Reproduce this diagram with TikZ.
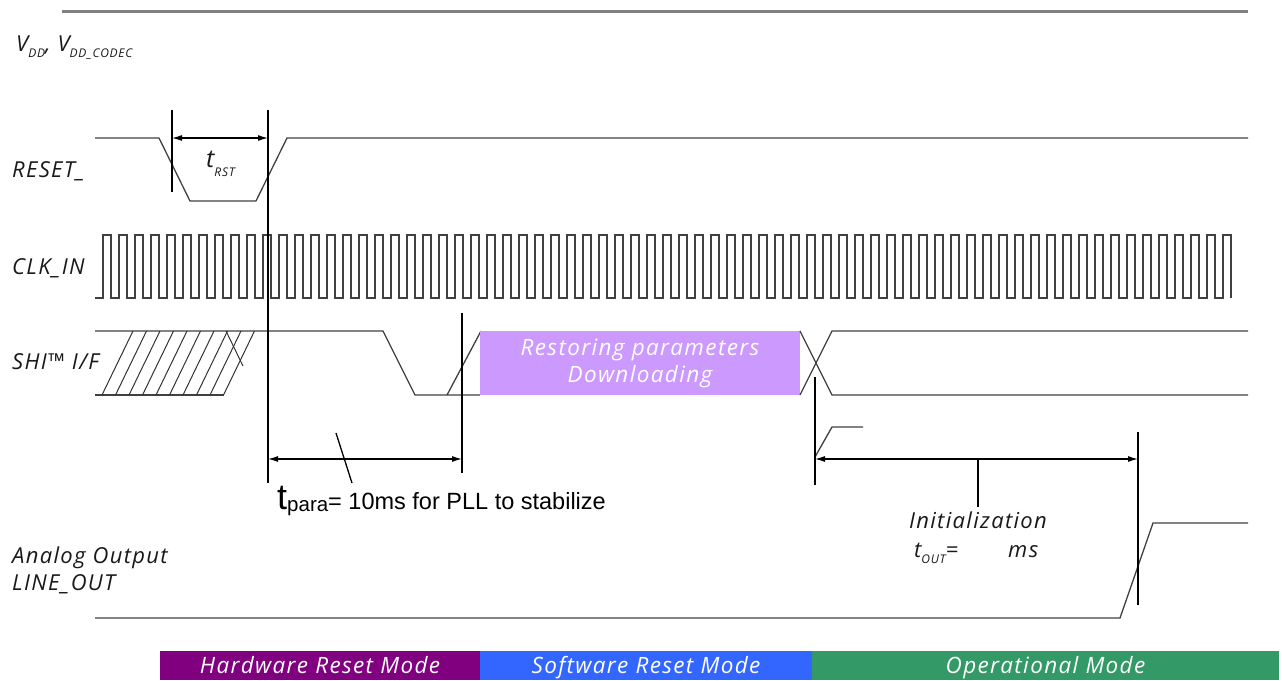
\documentclass[tikz,border=0pt]{standalone}
\usepackage{fontspec}
\setmainfont{Liberation Sans}
\newfontfamily\lblfont[LetterSpace=6]{Open Sans}
\usetikzlibrary{arrows.meta}

\definecolor{hwcol}{HTML}{800080}
\definecolor{swcol}{HTML}{3366FF}
\definecolor{opcol}{HTML}{339966}
\definecolor{boxcol}{HTML}{CC99FF}

\newcommand{\lowsub}[2][-6pt]{\raisebox{#1}{\fontsize{12}{12}\selectfont #2}}

\tikzset{
  sig/.style={line width=1.3pt, black!75},
  hatch/.style={line width=1pt, black!80},
  marker/.style={line width=1.3pt, black},
  dim/.style={line width=1.2pt, {Latex[length=10pt,width=6pt]}-{Latex[length=10pt,width=6pt]}},
  lbl/.style={font=\lblfont\itshape\fontsize{22}{24}\selectfont, inner sep=0pt, anchor=base west, text=black!90},
  modebar/.style={font=\lblfont\itshape\fontsize{22.5}{24}\selectfont, text=white, inner sep=0pt,
    minimum height=29pt, text height=16pt, text depth=0pt},
}

\begin{document}
\begin{tikzpicture}[x=1pt,y=-1pt]
\useasboundingbox (0,0) rectangle (1282,680);
\draw[line width=3pt, black!50] (62,11) -- (1248,11);

\node[lbl] (vdd) at (16,51) {V\lowsub{DD}, V\lowsub{DD\_CODEC}};
\node[lbl] (reset) at (12,177) {RESET\_};
\node[lbl] (clk) at (12,274) {CLK\_IN};
\node[lbl] (shi) at (12,369) {SHI™ I/F};
\node[lbl] (aout) at (12,563) {Analog Output};
\node[lbl] (lout) at (12,590) {LINE\_OUT};

% signals
\draw[sig] (95,138) -- (159,138) -- (190,201) -- (256,201) -- (287,138) -- (1248,138);
\draw[sig] (95,298) foreach \i in {0,...,70} { -- ({103+16*\i},298) -- ({103+16*\i},235) -- ({111+16*\i},235) -- ({111+16*\i},298) };

\draw[sig] (95,331) -- (383,331) -- (415,395) -- (480,395);
\draw[sig] (95,395) -- (224,395);
\foreach \k in {0,...,9}
  \draw[hatch] ({102+13.5*\k},395) -- ({133+13.5*\k},331);
\draw[hatch] (226,331) -- (243,366);
\draw[sig] (447,395) -- (481,331);
\node[fill=boxcol, minimum width=320pt, minimum height=64pt, inner sep=0pt, align=center,
  font=\lblfont\itshape\fontsize{22.5}{27}\selectfont, text=white] (restore) at (640,363)
  {Restoring parameters\\Downloading};
\draw[sig] (800,331) -- (832,395) -- (1248,395);
\draw[sig] (800,395) -- (832,331) -- (1248,331);
\draw[sig] (815,457) -- (832,427) -- (863,427);

\draw[sig] (95,618) -- (1120,618) -- (1153,523) -- (1248,523);

% markers
\coordinate (rstA) at (172,110);
\coordinate (rstB) at (268,110);
\coordinate (pllB) at (462,313);
\coordinate (initA) at (815,377);
\coordinate (initB) at (1138,432);
\draw[marker] (rstA) -- ++(0,82);
\draw[marker] (rstB) -- ++(0,373);
\draw[marker] (pllB) -- ++(0,160);
\draw[marker] (initA) -- ++(0,108);
\draw[marker] (initB) -- ++(0,173);

\coordinate (rstL) at (172,138);
\coordinate (rstR) at (268,138);
\coordinate (pllL) at (268,459);
\coordinate (pllR) at (462,459);
\coordinate (initL) at (815,459);
\coordinate (initR) at (1138,459);
\draw[dim] (rstL) -- (rstR);
\draw[dim] (pllL) -- (pllR);
\draw[dim] (initL) -- (initR);

\node[lbl] (trst) at (206,167) {{\fontsize{25}{25}\selectfont t}\lowsub[-9pt]{RST}};
\node[anchor=base west, inner sep=0pt, font=\fontsize{23.5}{24}\selectfont] (tpara) at (277,509)
  {{\fontsize{36}{36}\selectfont t}\raisebox{-2pt}{\fontsize{20.5}{20.5}\selectfont para}= 10ms for PLL to stabilize};
\draw[marker] (336,433) -- (352,483);

\node[lbl, anchor=base] (init) at (978,528) {Initialization};
\node[lbl] (tout) at (914,557) {t\lowsub{OUT}=\hspace{50pt}ms};
\draw[marker] (978,459) -- (978,507);

% modes
\node[modebar, fill=hwcol, minimum width=320pt] (hw) at (320,665.5) {Hardware Reset Mode};
\node[modebar, fill=swcol, minimum width=332pt] (sw) at (646,665.5) {Software Reset Mode};
\node[modebar, fill=opcol, minimum width=467pt] (op) at (1045.5,665.5) {Operational Mode};
\end{tikzpicture}
\end{document}
